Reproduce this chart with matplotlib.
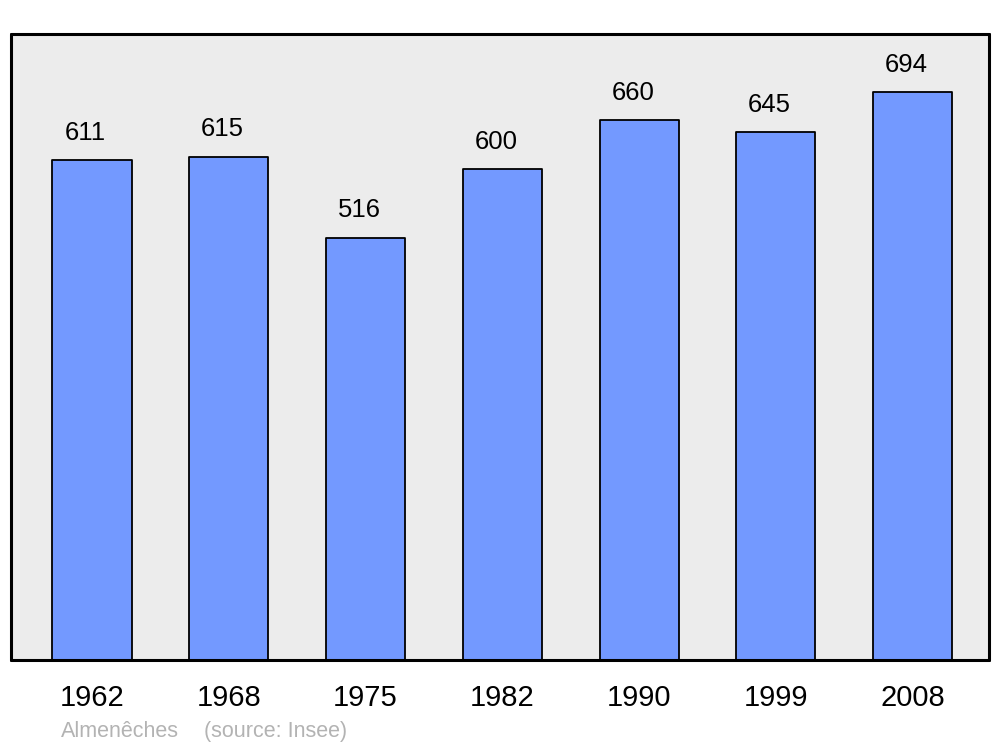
import matplotlib.pyplot as plt

plt.rcParams['font.family'] = ['Liberation Sans', 'DejaVu Sans']

# population data
years = ['1962', '1968', '1975', '1982', '1990', '1999', '2008']
population = [611, 615, 516, 600, 660, 645, 694]
commune = 'Almenêches'
source = '(source: Insee)'

fig = plt.figure(figsize=(10, 7.47), dpi=100)
ax = fig.add_axes([0.011, 87 / 747, 0.978, 626 / 747])
ax.set_facecolor('#ececec')

x = range(len(years))
bars = ax.bar(x, population, width=0.578, color='#7399ff', edgecolor='black', linewidth=1.3)
for b in bars:
    b.set_joinstyle('round')

for xi, v in zip(x, population):
    ax.annotate(str(v), (xi, v), xytext=(-4.5, 11), textcoords='offset points',
                ha='center', va='bottom', fontsize=18.5)

ax.set_xlim(-0.592, 6.558)
ax.set_ylim(0, 765)
ax.set_yticks([])
ax.set_xticks(list(x))
ax.set_xticklabels(years, fontsize=21)
ax.tick_params(axis='x', length=0, pad=17)
for s in ax.spines.values():
    s.set_linewidth(2.2)
    s.set_capstyle('round')
    s.set_joinstyle('round')

fig.text(0.061, 1 - 737 / 747, commune, color='#b3b3b3', fontsize=15.5, va='baseline')
fig.text(0.204, 1 - 737 / 747, source, color='#b3b3b3', fontsize=15.5, va='baseline')

fig.savefig('out.png', dpi=100)
